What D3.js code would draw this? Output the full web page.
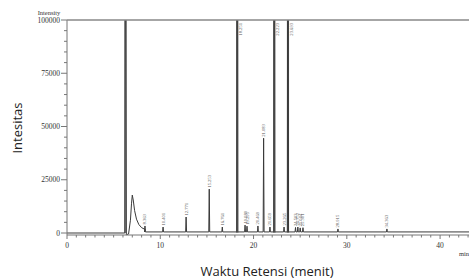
<!DOCTYPE html>
<html>
<head>
<meta charset="utf-8">
<script src="https://cdn.jsdelivr.net/npm/d3@7"></script>
<style>
  body { margin: 0; background: #fff; }
  svg { display: block; }
</style>
</head>
<body>
<svg id="chart"></svg>
<script>
const width = 469, height = 280;

// puncak kromatogram: waktu retensi (menit), intensitas, label
const peakTimes  = [8.36, 10.30, 12.77, 15.25, 16.65, 18.25, 19.09, 19.30, 20.47, 21.08, 21.76, 22.22, 23.27, 23.69, 24.50, 24.75, 25.00, 25.30, 29.05, 34.30];
const peakHeights = [3300, 2800, 7500, 20600, 2800, 400000, 3700, 3200, 3300, 44500, 2800, 400000, 2800, 400000, 2600, 2800, 2400, 2500, 1900, 1900];
const peakLabels = ["8.363", "10.401", "12.771", "15.253", "16.761", "18.251", "19.089", "19.295", "20.469", "21.083", "21.659", "22.223", "23.265", "23.693", "24.503", "24.752", "25.004", "25.301", "28.915", "34.363"];

// daerah pelarut + ekor (menit, intensitas)
const solventT = [0, 6.20, 6.26, 6.27, 6.28, 6.36, 6.60, 6.80, 6.92, 7.00, 7.10, 7.25, 7.45, 7.70, 8.00, 8.40];
const solventI = [0, 0, 200000, 200000, 200000, -800, -500, 6000, 14000, 17800, 15500, 10500, 6500, 4000, 2500, 1600];
const baseline = 500;

const yTicks = [0, 25000, 50000, 75000, 100000];
const xTicks = [0, 10, 20, 30, 40];

const svg = d3.select("#chart").attr("width", width).attr("height", height);

const x = d3.scaleLinear().domain([0, 43.1]).range([67, 469]);
const y = d3.scaleLinear().domain([0, 100000]).range([233, 20]);

svg.append("clipPath").attr("id", "clip")
  .append("rect").attr("x", 67).attr("y", 20).attr("width", 402).attr("height", 216);

// bangun titik jejak dari data
let trace = solventT.map((t, i) => [t, solventI[i]]);
peakTimes.forEach((t, i) => {
  const w = peakHeights[i] > 100000 ? 0.06 : 0.05;
  trace.push([t - w, baseline], [t, peakHeights[i]], [t + w, baseline]);
});
trace.push([43.1, baseline]);

const line = d3.line().x(d => x(d[0])).y(d => y(d[1]));

const g = svg.append("g").attr("clip-path", "url(#clip)");

// puncak besar tampak lebih tebal
g.selectAll(".big")
  .data(peakTimes.filter((t, i) => peakHeights[i] > 100000).concat([6.27]))
  .enter().append("line")
  .attr("x1", d => x(d)).attr("x2", d => x(d))
  .attr("y1", y(0)).attr("y2", 20)
  .attr("stroke", "#888").attr("stroke-width", 2.2);

g.append("path")
  .datum(trace)
  .attr("d", line)
  .attr("fill", "none")
  .attr("stroke", "#3a3a3a")
  .attr("stroke-width", 1);

// label puncak (vertikal)
svg.selectAll(".plabel")
  .data(peakTimes.map((t, i) => ({t: t, h: peakHeights[i], s: peakLabels[i]})))
  .enter().append("text")
  .attr("class", "plabel")
  .attr("transform", d => {
    const big = d.h > 100000;
    const px = big ? x(d.t) + 5 : x(d.t) + 1.5;
    const py = big ? 23 : y(d.h) - 1.5;
    return `translate(${px},${py}) rotate(-90)`;
  })
  .attr("text-anchor", d => d.h > 100000 ? "end" : "start")
  .attr("font-family", "Liberation Serif")
  .attr("font-size", 4.6)
  .attr("fill", "#555")
  .text(d => d.s);

// sumbu Y
const yAxis = svg.append("g");
yAxis.append("line").attr("x1", 67).attr("x2", 67).attr("y1", 20).attr("y2", 235)
  .attr("stroke", "#777").attr("stroke-width", 1);
yAxis.selectAll(".ymin")
  .data(d3.range(0, 100001, 5000))
  .enter().append("line")
  .attr("x1", d => yTicks.includes(d) ? 61 : 64).attr("x2", 67)
  .attr("y1", d => y(d)).attr("y2", d => y(d))
  .attr("stroke", "#777");
yAxis.selectAll(".ylab")
  .data(yTicks)
  .enter().append("text")
  .attr("x", 60).attr("y", d => y(d) + 2.5)
  .attr("text-anchor", "end")
  .attr("font-family", "Liberation Serif")
  .attr("font-size", 7.5)
  .attr("fill", "#333")
  .text(d => d);

svg.append("text")
  .attr("x", 49).attr("y", 14.5)
  .attr("text-anchor", "middle")
  .attr("font-family", "Liberation Serif")
  .attr("font-size", 6.5)
  .attr("fill", "#333")
  .text("Intensity");

// garis atas
svg.append("line").attr("x1", 67).attr("x2", 469).attr("y1", 20).attr("y2", 20)
  .attr("stroke", "#888").attr("stroke-width", 1.5);

// sumbu X
const xAxis = svg.append("g");
xAxis.append("line").attr("x1", 67).attr("x2", 469).attr("y1", 235).attr("y2", 235)
  .attr("stroke", "#777");
xAxis.selectAll(".xmin")
  .data(d3.range(0, 44, 1))
  .enter().append("line")
  .attr("x1", d => x(d)).attr("x2", d => x(d))
  .attr("y1", 235).attr("y2", d => xTicks.includes(d) ? 239 : 237.5)
  .attr("stroke", "#777");
xAxis.selectAll(".xlab")
  .data(xTicks)
  .enter().append("text")
  .attr("x", d => x(d)).attr("y", 248)
  .attr("text-anchor", "middle")
  .attr("font-family", "Liberation Serif")
  .attr("font-size", 7.5)
  .attr("fill", "#333")
  .text(d => d);

svg.append("text")
  .attr("x", 459).attr("y", 256)
  .attr("font-family", "Liberation Serif")
  .attr("font-size", 6.5)
  .attr("fill", "#333")
  .text("min");

// judul sumbu
svg.append("text")
  .attr("transform", "translate(22,128) rotate(-90)")
  .attr("text-anchor", "middle")
  .attr("font-family", "Open Sans")
  .attr("font-size", 13)
  .attr("fill", "#222")
  .text("Intesitas");

svg.append("text")
  .attr("x", 267).attr("y", 276)
  .attr("text-anchor", "middle")
  .attr("font-family", "Open Sans")
  .attr("font-size", 13)
  .attr("fill", "#222")
  .text("Waktu Retensi (menit)");
</script>
</body>
</html>
